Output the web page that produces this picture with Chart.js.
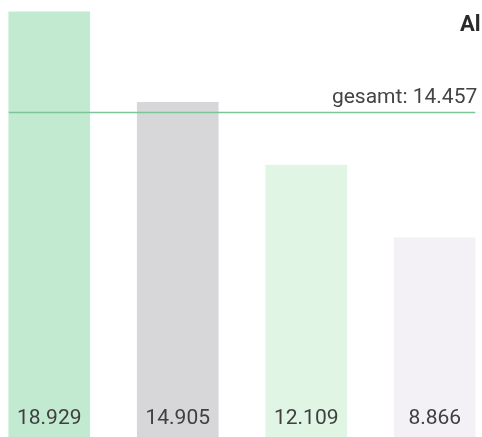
<!DOCTYPE html>
<html>
<head>
<meta charset="utf-8">
<script src="https://cdn.jsdelivr.net/npm/chart.js@4"></script>
<style>
  html, body { margin: 0; padding: 0; background: #fff; overflow: hidden; }
  #frame { width: 482px; height: 437px; position: relative; overflow: hidden; }
  /* Zeichenfläche etwas breiter als der Rahmen, Balken laufen links/rechts knapp an den Rand */
  #wrap { width: 514px; height: 437px; position: absolute; left: -15px; top: 0; }
</style>
</head>
<body>
<div id="frame"><div id="wrap"><canvas id="chart"></canvas></div></div>
<script>
// Werte je Gruppe und Gesamtdurchschnitt
const labels = ['A', 'B', 'C', 'D'];
const values = [18.929, 14.905, 12.109, 8.866];
const barColors = ['#c2ead1', '#d7d7d9', '#e1f5e5', '#f3f0f6'];
const totalValue = 14.457;
const totalLabel = 'gesamt';
const titleText = 'Al';

const OFFSET_X = 15;
const fmt = v => v.toFixed(3);

// Durchschnittslinie mit Beschriftung
const totalLine = {
    id: 'totalLine',
    afterDatasetsDraw(chart) {
        const ctx = chart.ctx;
        const bars = chart.getDatasetMeta(0).data;
        const y = Math.round(chart.scales.y.getPixelForValue(totalValue)) + 0.5;
        const first = bars[0], last = bars[bars.length - 1];
        const x0 = first.x - first.width / 2;
        const x1 = last.x + last.width / 2;
        ctx.save();
        ctx.strokeStyle = '#7cc596';
        ctx.lineWidth = 1.5;
        ctx.beginPath();
        ctx.moveTo(x0, y);
        ctx.lineTo(x1, y);
        ctx.stroke();
        ctx.fillStyle = '#444';
        ctx.font = '21px Roboto, "Liberation Sans", sans-serif';
        ctx.textAlign = 'right';
        ctx.textBaseline = 'alphabetic';
        ctx.fillText(totalLabel + ': ' + fmt(totalValue), x1 + 2, y - 10);
        ctx.restore();
    }
};

// Werte unten in den Balken
const valueLabels = {
    id: 'valueLabels',
    afterDatasetsDraw(chart) {
        const ctx = chart.ctx;
        const bars = chart.getDatasetMeta(0).data;
        ctx.save();
        ctx.fillStyle = '#3f3f3f';
        ctx.font = '21px Roboto, "Liberation Sans", sans-serif';
        ctx.textAlign = 'center';
        ctx.textBaseline = 'alphabetic';
        bars.forEach((bar, i) => {
            ctx.fillText(fmt(values[i]), bar.x, 424);
        });
        ctx.restore();
    }
};

// Überschrift (rechts angeschnitten)
const titlePlugin = {
    id: 'titlePlugin',
    afterDraw(chart) {
        const ctx = chart.ctx;
        ctx.save();
        ctx.fillStyle = '#2a2a2a';
        ctx.font = 'bold 22px Roboto, "Liberation Sans", sans-serif';
        ctx.textAlign = 'left';
        ctx.fillText(titleText, 460 + OFFSET_X, 31);
        ctx.restore();
    }
};

new Chart(document.getElementById('chart'), {
    type: 'bar',
    data: {
        labels: labels,
        datasets: [{
            data: values,
            backgroundColor: barColors,
            borderWidth: 0,
            barThickness: 81
        }]
    },
    options: {
        responsive: true,
        maintainAspectRatio: false,
        animation: false,
        layout: { padding: 0 },
        plugins: {
            legend: { display: false },
            tooltip: { enabled: false }
        },
        scales: {
            x: { display: false, offset: true },
            y: { display: false, min: 0, max: 19.46 }
        }
    },
    plugins: [totalLine, valueLabels, titlePlugin]
});
</script>
</body>
</html>
